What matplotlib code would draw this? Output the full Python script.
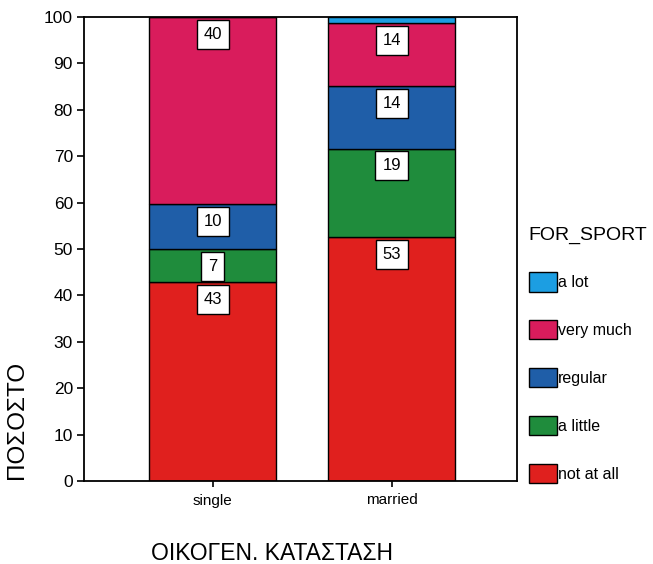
import numpy as np
import matplotlib.pyplot as plt
from matplotlib.patches import Patch

plt.rcParams["font.family"] = ["Liberation Sans", "DejaVu Sans"]

# data (percent)
categories = ["single", "married"]
levels = ["not at all", "a little", "regular", "very much", "a lot"]
colors = ["#e0201e", "#1f8c3c", "#1f5ea8", "#d91c5c", "#1c9ee2"]

not_at_all = [42.9, 52.6]
a_little = [7.1, 19.0]
regular = [9.7, 13.55]
very_much = [40.3, 13.55]
a_lot = [0.0, 1.3]

labels_not_at_all = ["43", "53"]
labels_a_little = ["7", "19"]
labels_regular = ["10", "14"]
labels_very_much = ["40", "14"]
labels_a_lot = ["", ""]

series = [not_at_all, a_little, regular, very_much, a_lot]
series_labels = [labels_not_at_all, labels_a_little, labels_regular,
                 labels_very_much, labels_a_lot]

fig = plt.figure(figsize=(6.53, 5.64), dpi=100)
ax = fig.add_axes([84 / 653, 1 - 481 / 564, 433 / 653, 464 / 564])

x = np.arange(len(categories))
bottom = np.zeros(len(categories))
for vals, labs, col in zip(series, series_labels, colors):
    ax.bar(x, vals, width=0.71, bottom=bottom, color=col,
           edgecolor="black", linewidth=1.0)
    for i in range(len(x)):
        if labs[i]:
            ax.text(x[i], bottom[i] + vals[i] - 3.7, labs[i],
                    ha="center", va="center", fontsize=12,
                    bbox=dict(boxstyle="square,pad=0.42", fc="white",
                              ec="black", lw=1.0))
    bottom += np.array(vals)

ax.set_xlim(-0.72, 1.70)
ax.set_ylim(0, 100)
ax.set_yticks(range(0, 101, 10))
ax.set_xticks(x)
ax.set_xticklabels(categories, fontsize=11)
ax.tick_params(axis="y", labelsize=12.5, length=5, width=1.2, pad=3)
ax.tick_params(axis="x", length=4, width=1.2, pad=5)
for s in ax.spines.values():
    s.set_linewidth(1.3)

fig.text(272 / 653, 1 - 553 / 564, "ΟΙΚΟΓΕΝ. ΚΑΤΑΣΤΑΣΗ", ha="center",
         va="center", fontsize=16.5)
fig.text(17 / 653, 1 - 420 / 564, "ΠΟΣΟΣΤΟ", ha="center", va="center",
         rotation=90, fontsize=17.5)

handles = [Patch(facecolor=c, edgecolor="black", lw=1.0, label=l)
           for c, l in zip(colors[::-1], levels[::-1])]
leg = ax.legend(handles=handles, title="FOR_SPORT", loc="upper left",
                bbox_to_anchor=(0.99, 0.583), frameon=False, fontsize=11.5,
                title_fontsize=14, handlelength=1.75, handleheight=1.5,
                handletextpad=0.1, labelspacing=1.78, borderaxespad=0.6,
                alignment="left")

fig.savefig("out.png", dpi=100)
